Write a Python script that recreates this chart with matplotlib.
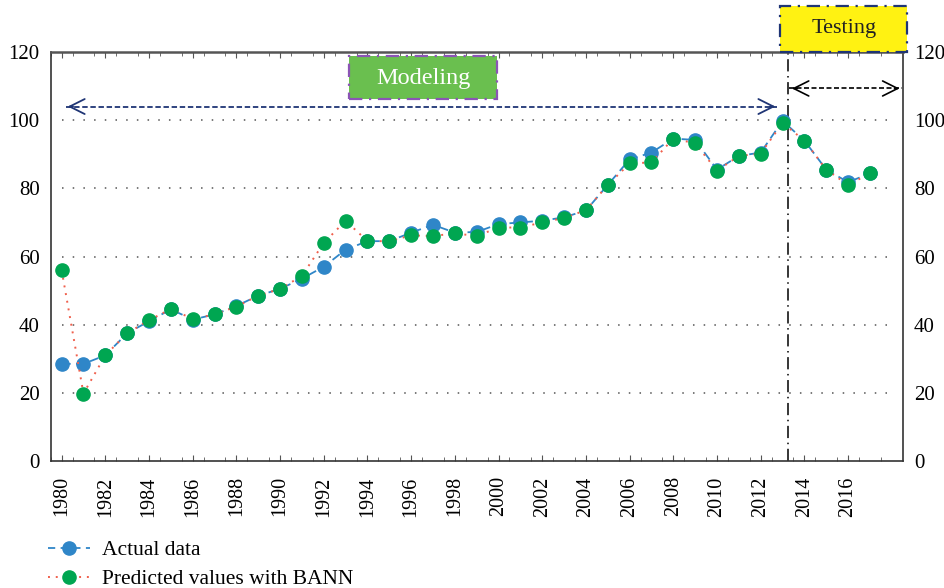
import matplotlib
matplotlib.use("Agg")
import matplotlib.pyplot as plt
from matplotlib.patches import Rectangle
from matplotlib.lines import Line2D

plt.rcParams['font.family'] = ['Liberation Serif', 'DejaVu Serif']

years = list(range(1980, 2018))
actual = [28.5, 28.5, 31.0, 37.5, 41.0, 44.5, 41.5, 43.0, 45.5, 48.5,
          50.5, 53.5, 57.0, 62.0, 64.5, 64.5, 67.0, 69.3, 67.0, 67.2,
          69.5, 70.0, 70.5, 71.5, 73.5, 81.0, 88.5, 90.5, 94.6, 94.2,
          85.5, 89.5, 90.5, 99.8, 94.0, 85.5, 81.8, 84.4]
predicted = [56.0, 19.8, 31.0, 37.5, 41.3, 44.6, 41.7, 43.0, 45.3, 48.5,
             50.5, 54.3, 64.0, 70.5, 64.5, 64.5, 66.2, 66.0, 66.8, 66.0,
             68.5, 68.5, 70.0, 71.3, 73.6, 81.0, 87.3, 87.6, 94.6, 93.2,
             85.2, 89.5, 90.2, 99.2, 94.0, 85.5, 81.0, 84.4]
xtick_years = list(range(1980, 2017, 2))
yticks = [0, 20, 40, 60, 80, 100, 120]
grid_levels = [20, 40, 60, 80, 100]

blue = '#2f86c8'
green = '#00a651'
red = '#f0604d'

fig = plt.figure(figsize=(9.45, 5.88), dpi=100)
ax = fig.add_axes([50.7/945, 1-461/588, (902.7-50.7)/945, (461-52)/588])

ax.set_xlim(1979.55, 2018.5)
ax.set_ylim(0, 120)

# dotted grid
ax.hlines(grid_levels, 1980, 2018, colors='#555555', linestyles=(0, (1, 6)), linewidth=1.1, zorder=1)

ax.plot(years, actual, linestyle=(0, (5, 3)), color=blue, linewidth=1.3,
        marker='o', markersize=9.5, markerfacecolor=blue, markeredgecolor=blue, zorder=3)
ax.plot(years, predicted, linestyle=(0, (1, 3)), color=red, linewidth=1.4,
        marker='o', markersize=9.5, markerfacecolor=green, markeredgecolor=green, zorder=4)

# vertical split line
ax.plot([2013.25, 2013.25], [0, 120], color='black', linestyle=(0, (8, 3, 1, 3)), linewidth=1.1,
        zorder=2, clip_on=False)

# Modeling arrow
navy = '#1f3575'
ax.plot([1980.2, 2012.75], [104, 104], color=navy, linestyle=(0, (3, 1.5)), linewidth=1.3, zorder=2)
ax.annotate('', xy=(2012.8, 104), xytext=(2012.3, 104),
            arrowprops=dict(arrowstyle='->', color=navy, lw=1.3, mutation_scale=27))
ax.annotate('', xy=(1980.15, 104), xytext=(1980.65, 104),
            arrowprops=dict(arrowstyle='->', color=navy, lw=1.3, mutation_scale=27))

# Testing arrow
ax.plot([2013.3, 2018.45], [109.3, 109.3], color='black', linestyle=(0, (3, 1.5)), linewidth=1.2, zorder=2)
ax.annotate('', xy=(2018.48, 109.3), xytext=(2018.0, 109.3),
            arrowprops=dict(arrowstyle='->', color='black', lw=1.2, mutation_scale=27))
ax.annotate('', xy=(2013.3, 109.3), xytext=(2013.8, 109.3),
            arrowprops=dict(arrowstyle='->', color='black', lw=1.2, mutation_scale=27))

# Modeling box
ax.add_patch(Rectangle((1993.15, 106.2), 6.8, 12.6, facecolor='#6abf4f', edgecolor='#8b55b5',
                       linestyle=(0, (6, 3, 1, 3)), linewidth=1.6, zorder=5, clip_on=False))
ax.text(1996.55, 112.3, 'Modeling', color='white', fontsize=17.5, ha='center', va='center', zorder=6)

# Testing box
ax.add_patch(Rectangle((2012.9, 120), 5.8, 13.4, facecolor='#fff212', edgecolor='#1f3575',
                       linestyle=(0, (6, 3, 1, 3)), linewidth=1.6, zorder=5, clip_on=False))
ax.text(2015.8, 127.0, 'Testing', color='#222222', fontsize=16, ha='center', va='center', zorder=6)

# axes styling
ax.set_xticks(xtick_years)
ax.set_xticklabels([str(y) for y in xtick_years], rotation=90, fontsize=14.5)
ax.set_xticks([y + 0.5 for y in range(1979, 2018)], minor=True)
ax.tick_params(axis='x', which='major', length=4, direction='in', top=True, pad=11, color='#555555')
ax.tick_params(axis='x', which='minor', length=3, direction='in', top=True, color='#555555')
ax.set_yticks(yticks)
ax.set_yticklabels([str(v) for v in yticks], fontsize=15)
ax.tick_params(axis='y', length=0, pad=8, labelright=True, right=False)
for s in ax.spines.values():
    s.set_color('#333333')
    s.set_linewidth(1.2)
ax.spines['top'].set_color('#555555')
ax.spines['top'].set_linewidth(1.8)

handles = [
    Line2D([], [], linestyle=(0, (4, 3)), color=blue, linewidth=1.3, marker='o', markersize=9.5,
           markerfacecolor=blue, markeredgecolor=blue),
    Line2D([], [], linestyle=(0, (1, 3)), color=red, linewidth=1.4, marker='o', markersize=9.5,
           markerfacecolor=green, markeredgecolor=green),
]
fig.legend(handles, ['Actual data', 'Predicted values with BANN'], loc='upper left',
           bbox_to_anchor=(44/945, 1-536/588), frameon=False, fontsize=15.5,
           handlelength=1.95, handletextpad=0.55, labelspacing=0.42, numpoints=1,
           borderaxespad=0, borderpad=0.2)

fig.savefig('out.png', dpi=100)
